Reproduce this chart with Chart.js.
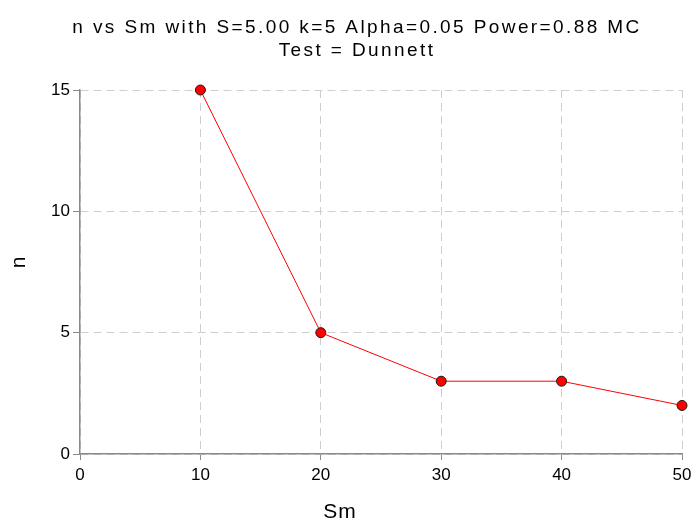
<!DOCTYPE html>
<html>
<head>
<meta charset="utf-8">
<script src="https://cdn.jsdelivr.net/npm/chart.js@4"></script>
<style>
  html, body { margin: 0; padding: 0; background: #fff; }
  canvas { display: block; }
</style>
</head>
<body>
<canvas id="nChart" width="692" height="522"></canvas>
<script>
/* ---------- DATA ---------- */
const smValues = [10, 20, 30, 40, 50];
const nValues = [15, 5, 3, 3, 2];
const titleLines = ["n vs Sm with S=5.00 k=5 Alpha=0.05 Power=0.88 MC", "Test = Dunnett"];
const xTitle = "Sm";
const yTitle = "n";

/* ---------- CHART ---------- */
const fontFamily = "'Liberation Sans', Arial, sans-serif";
const axisGray = "#8a8a8a";
const gridGray = "#cfcfcf";

// Titles drawn by hand so the wide letter spacing of the original can be kept
const titlesPlugin = {
    id: "spacedTitles",
    afterDraw(chart) {
        const c = chart.ctx;
        c.save();
        c.fillStyle = "#000";
        c.textAlign = "center";
        c.textBaseline = "alphabetic";

        c.font = "19px " + fontFamily;
        c.letterSpacing = "2.4px";
        c.fillText(titleLines[0], 357, 33);
        c.fillText(titleLines[1], 357, 56);

        c.font = "21px " + fontFamily;
        c.letterSpacing = "1px";
        c.fillText(xTitle, 340, 518);

        c.translate(25, 262);
        c.rotate(-Math.PI / 2);
        c.fillText(yTitle, 0, 0);
        c.restore();
    }
};

const ctx = document.getElementById("nChart").getContext("2d");

new Chart(ctx, {
    type: "line",
    data: {
        datasets: [{
            data: smValues.map((x, i) => ({ x: x, y: nValues[i] })),
            borderColor: "#ff0000",
            borderWidth: 1,
            backgroundColor: "#ff0000",
            pointBackgroundColor: "#ff0000",
            pointBorderColor: "#1a1a1a",
            pointBorderWidth: 1,
            pointRadius: 5,
            tension: 0,
            clip: false
        }]
    },
    options: {
        responsive: false,
        animation: false,
        layout: { padding: { left: 0, right: 10, top: 90, bottom: 0 } },
        plugins: {
            legend: { display: false },
            tooltip: { enabled: false },
            title: { display: false }
        },
        scales: {
            x: {
                type: "linear",
                min: 0,
                max: 50,
                ticks: {
                    stepSize: 10,
                    color: "#000",
                    padding: 5,
                    font: { family: fontFamily, size: 17 }
                },
                grid: {
                    color: gridGray,
                    lineWidth: 1,
                    tickColor: axisGray,
                    tickLength: 6,
                    tickBorderDash: []
                },
                border: { display: true, color: axisGray, width: 1.5, dash: [8, 5] },
                afterFit: (scale) => {
                    scale.height = 68;
                    scale.paddingLeft = 0;
                    scale.paddingRight = 0;
                }
            },
            y: {
                min: 0,
                max: 15,
                ticks: {
                    stepSize: 5,
                    color: "#000",
                    padding: 3,
                    font: { family: fontFamily, size: 17 }
                },
                grid: {
                    color: gridGray,
                    lineWidth: 1,
                    tickColor: axisGray,
                    tickLength: 7,
                    tickBorderDash: []
                },
                border: { display: true, color: axisGray, width: 1.5, dash: [8, 5] },
                afterFit: (scale) => {
                    scale.width = 80;
                    scale.paddingTop = 0;
                    scale.paddingBottom = 0;
                }
            }
        }
    },
    plugins: [titlesPlugin]
});
</script>
</body>
</html>
